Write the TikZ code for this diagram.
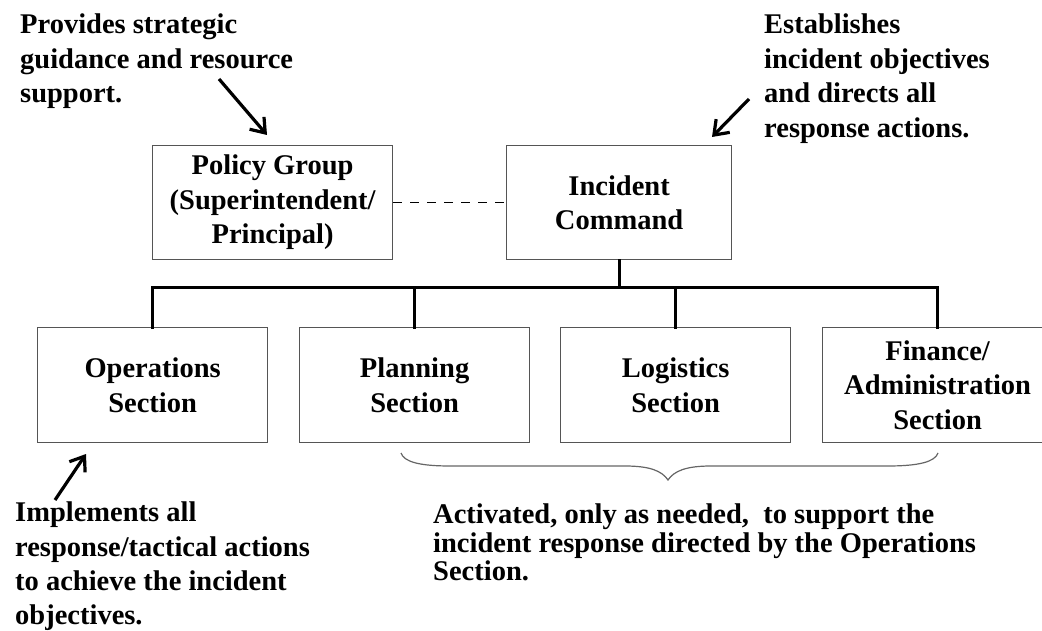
\documentclass[tikz,border=0pt]{standalone}
\usepackage{fontspec}
\setmainfont{Liberation Serif}
\usetikzlibrary{arrows.meta}
\definecolor{boxgray}{HTML}{555555}
\definecolor{bracegray}{HTML}{666666}
\begin{document}
\begin{tikzpicture}[x=1pt,y=-1pt,
  box/.style={draw=boxgray, line width=1.2pt, minimum height=115pt, inner sep=0pt,
    align=center, anchor=north west, font=\fontsize{28.5}{34.5}\selectfont\bfseries},
  note/.style={inner sep=0pt, anchor=north west, align=left,
    font=\fontsize{28.5}{34.5}\selectfont\bfseries},
  conn/.style={line width=3pt, black, line cap=rect},
  pointer/.style={line width=3.2pt, black, -{Straight Barb[length=13pt,width=19pt,line width=3.2pt]}},
  dashconn/.style={line width=1.4pt, black, dash pattern=on 9pt off 8pt},
  bracestyle/.style={line width=1.2pt, bracegray}]
\useasboundingbox (0,0) rectangle (1042,631);
\fill[white] (0,0) rectangle (1042,631);
\clip (0,0) rectangle (1042,631);

% boxes
\node[box, minimum width=240pt, minimum height=114pt] (policy) at (152,145) {Policy Group\\(Superintendent/\\Principal)};
\node[box, minimum width=225pt, minimum height=114pt] (ic) at (506,145) {Incident\\Command};
\node[box, minimum width=230pt] (ops) at (37,327) {Operations\\Section};
\node[box, minimum width=230pt] (plan) at (299,327) {Planning\\Section};
\node[box, minimum width=230pt] (logi) at (560,327) {Logistics\\Section};
\node[box, minimum width=230pt] (fin) at (822,327) {Finance/\\Administration\\Section};

% connectors
\coordinate (bus) at (617,288);
\draw[dashconn] (policy.east) -- (ic.west);
\draw[conn] (ic.south) -- (ic.south |- bus);
\draw[conn] (ops.north) -- (ops.north |- bus) -- (fin.north |- bus) -- (fin.north);
\draw[conn] (plan.north) -- (plan.north |- bus);
\draw[conn] (logi.north) -- (logi.north |- bus);

% notes
\node[note] (tl) at (20,14) {Provides strategic\\guidance and resource\\support.};
\node[note] (tr) at (764,14) {Establishes\\incident objectives\\and directs all\\response actions.};
\node[note, font=\fontsize{28.5}{34.2}\selectfont\bfseries] (bl) at (15,502) {Implements all\\response/tactical actions\\to achieve the incident\\objectives.};
\node[note, font=\fontsize{28.5}{28.5}\selectfont\bfseries] (br) at (433,504) {Activated, only as needed,~ to support the\\incident response directed by the Operations\\Section.};

% pointer arrows
\coordinate (tlA) at (219,79);
\coordinate (tlB) at (267,135);
\coordinate (trA) at (749,99);
\coordinate (trB) at (712,137);
\coordinate (blA) at (55,500);
\coordinate (blB) at (86,454);
\draw[pointer] (tlA) -- (tlB);
\draw[pointer] (trA) -- (trB);
\draw[pointer] (blA) -- (blB);

% brace
\draw[bracestyle] (401,453) .. controls (404,462) and (420,466) .. (450,466)
  -- (625,466) .. controls (650,466) and (662,471) .. (668,480)
  .. controls (674,471) and (686,466) .. (711,466)
  -- (888,466) .. controls (918,466) and (935,462) .. (938,453);
\end{tikzpicture}
\end{document}
